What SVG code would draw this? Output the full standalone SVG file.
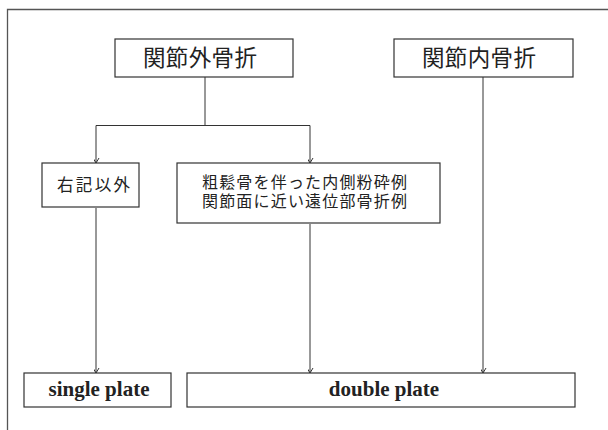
<svg xmlns="http://www.w3.org/2000/svg" width="608" height="430" viewBox="0 0 608 430">
<style>
.box{fill:#fff;stroke:#333;stroke-width:1.2}
.jp{font-family:"Noto Sans CJK JP","Noto Sans CJK SC",sans-serif;fill:#222}
.en{font-family:"Liberation Serif",serif;font-weight:bold;font-size:21px;fill:#222;text-anchor:middle}
.con{fill:none;stroke:#333;stroke-width:1}
</style>
<defs>
<marker id="arr" markerUnits="userSpaceOnUse" markerWidth="10" markerHeight="10" viewBox="-5 -8 10 10" refX="0" refY="0" orient="auto">
<path d="M-5,-3 L0,0 L-5,3" fill="none" stroke="#333" stroke-width="1"/>
</marker>
</defs>
<rect width="608" height="430" fill="#fff"/>
<path d="M7.5,430 V9.5 H608" fill="none" stroke="#555" stroke-width="1.3"/>
<g id="connectors">
<path class="con" d="M205,77 V125.5 H96"/>
<path class="con" d="M205,125.5 H310"/>
<path class="con" d="M96,125.5 V163" marker-end="url(#arr)"/>
<path class="con" d="M310,125.5 V163" marker-end="url(#arr)"/>
<path class="con" d="M96,208 V373" marker-end="url(#arr)"/>
<path class="con" d="M310,224 V373" marker-end="url(#arr)"/>
<path class="con" d="M483,77 V373" marker-end="url(#arr)"/>
</g>
<g id="n1">
<rect class="box" x="115" y="39" width="178" height="38"/>
<text class="jp" x="143" y="66" font-size="22.5" textLength="114" lengthAdjust="spacing">関節外骨折</text>
</g>
<g id="n2">
<rect class="box" x="394" y="39" width="179" height="38"/>
<text class="jp" x="422" y="66" font-size="22.5" textLength="114" lengthAdjust="spacing">関節内骨折</text>
</g>
<g id="n3">
<rect class="box" x="42" y="163" width="97" height="44"/>
<text class="jp" x="57" y="191" font-size="16.5" textLength="73" lengthAdjust="spacing">右記以外</text>
</g>
<g id="n4">
<rect class="box" x="177" y="163" width="263" height="60"/>
<text class="jp" x="202" y="188" font-size="16" textLength="205" lengthAdjust="spacing">粗鬆骨を伴った内側粉砕例</text>
<text class="jp" x="202" y="206.5" font-size="16" textLength="205" lengthAdjust="spacing">関節面に近い遠位部骨折例</text>
</g>
<g id="n5">
<rect class="box" x="24" y="373" width="147" height="34"/>
<text class="en" x="99" y="396">single plate</text>
</g>
<g id="n6">
<rect class="box" x="187" y="373" width="388" height="34"/>
<text class="en" x="384" y="396">double plate</text>
</g>
</svg>
